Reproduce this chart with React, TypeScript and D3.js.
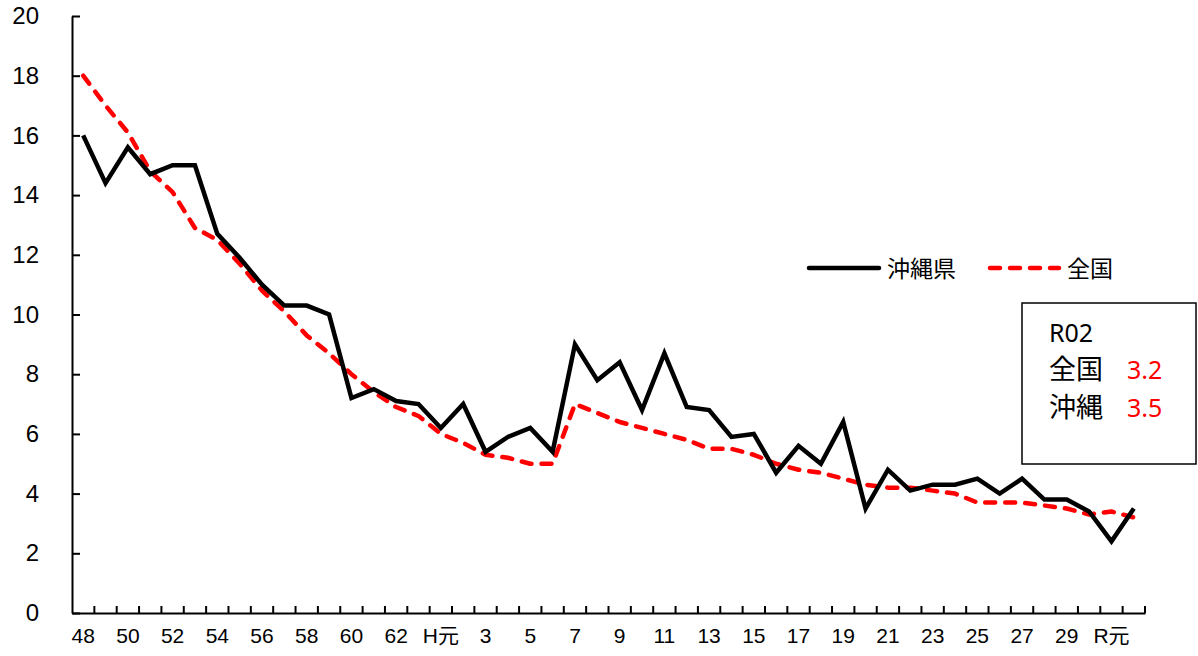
import React, { useEffect, useRef } from "react";
import * as d3 from "d3";

// Years (Showa 48 .. Reiwa 2)
const categories = [
  "S48", "S49", "S50", "S51", "S52", "S53", "S54", "S55", "S56", "S57", "S58", "S59",
  "S60", "S61", "S62", "S63", "H元", "H2", "H3", "H4", "H5", "H6", "H7", "H8", "H9",
  "H10", "H11", "H12", "H13", "H14", "H15", "H16", "H17", "H18", "H19", "H20", "H21",
  "H22", "H23", "H24", "H25", "H26", "H27", "H28", "H29", "H30", "R元", "R2",
];

// Labels shown under the x axis (every other year)
const tickLabels = [
  "48", "", "50", "", "52", "", "54", "", "56", "", "58", "", "60", "", "62", "",
  "H元", "", "3", "", "5", "", "7", "", "9", "", "11", "", "13", "", "15", "",
  "17", "", "19", "", "21", "", "23", "", "25", "", "27", "", "29", "", "R元", "",
];

const okinawa = [
  16.0, 14.4, 15.6, 14.7, 15.0, 15.0, 12.7, 11.9, 11.0, 10.3, 10.3, 10.0,
  7.2, 7.5, 7.1, 7.0, 6.2, 7.0, 5.4, 5.9, 6.2, 5.4, 9.0, 7.8, 8.4,
  6.8, 8.7, 6.9, 6.8, 5.9, 6.0, 4.7, 5.6, 5.0, 6.4, 3.5, 4.8,
  4.1, 4.3, 4.3, 4.5, 4.0, 4.5, 3.8, 3.8, 3.4, 2.4, 3.5,
];

const national = [
  18.0, 17.0, 16.1, 14.8, 14.1, 12.9, 12.5, 11.7, 10.8, 10.1, 9.3, 8.7,
  8.0, 7.4, 6.9, 6.6, 6.0, 5.7, 5.3, 5.2, 5.0, 5.0, 7.0, 6.7, 6.4,
  6.2, 6.0, 5.8, 5.5, 5.5, 5.3, 5.0, 4.8, 4.7, 4.5, 4.3, 4.2,
  4.2, 4.1, 4.0, 3.7, 3.7, 3.7, 3.6, 3.5, 3.3, 3.4, 3.2,
];

const yTicks = [0, 2, 4, 6, 8, 10, 12, 14, 16, 18, 20];

const seriesNames = ["沖縄県", "全国"];
const boxTitle = "R02";
const boxRows = [
  ["全国", "3.2"],
  ["沖縄", "3.5"],
];

const AXIS_FONT = "'Liberation Sans', 'Noto Sans CJK JP', sans-serif";
const CJK_FONT = "'Noto Sans CJK JP', 'Noto Sans', sans-serif";
const BOX_FONT = "'Noto Sans', 'Noto Sans CJK JP', sans-serif";

export default function App() {
  const ref = useRef<SVGSVGElement>(null);

  useEffect(() => {
    const width = 1198,
      height = 656;
    const left = 72,
      right = 1145,
      top = 16,
      bottom = 613;

    const svg = d3.select(ref.current);
    svg.selectAll("*").remove();
    svg.attr("width", width).attr("height", height);

    const x = d3.scaleBand<string>().domain(categories).range([left, right]).padding(0);
    const y = d3.scaleLinear().domain([0, 20]).range([bottom, top]);
    const cx = (i: number) => (x(categories[i]) as number) + x.bandwidth() / 2;

    // Y axis
    const yAxis = d3
      .axisLeft(y)
      .tickValues(yTicks)
      .tickSize(-8)
      .tickSizeOuter(0)
      .tickPadding(33);
    const gy = svg.append("g").attr("transform", `translate(${left},0)`).call(yAxis);
    gy.selectAll("path, line").attr("stroke", "#000").attr("stroke-width", 2);
    gy.selectAll("text")
      .attr("font-family", AXIS_FONT)
      .attr("font-size", 24)
      .attr("fill", "#000");

    // X axis labels (ticks drawn separately at band boundaries)
    const xAxis = d3
      .axisBottom(x)
      .tickSize(0)
      .tickSizeOuter(0)
      .tickPadding(15)
      .tickFormat((d, i) => tickLabels[i]);
    const gx = svg.append("g").attr("transform", `translate(0,${bottom})`).call(xAxis);
    gx.select(".domain").attr("stroke", "#000").attr("stroke-width", 2);
    gx.selectAll("text")
      .attr("font-family", AXIS_FONT)
      .attr("font-size", 21)
      .attr("fill", "#000");

    // Tick marks on the category boundaries
    const bounds = categories.map((c) => x(c) as number).concat([right]);
    svg
      .append("g")
      .selectAll("line")
      .data(bounds.slice(1))
      .enter()
      .append("line")
      .attr("x1", (d) => d)
      .attr("x2", (d) => d)
      .attr("y1", bottom)
      .attr("y2", bottom - 7)
      .attr("stroke", "#000")
      .attr("stroke-width", 2);

    const line = d3
      .line<number>()
      .x((d, i) => cx(i))
      .y((d) => y(d));

    // National (red dashed)
    svg
      .append("path")
      .datum(national)
      .attr("d", line)
      .attr("fill", "none")
      .attr("stroke", "#ff0000")
      .attr("stroke-width", 4.5)
      .attr("stroke-linecap", "round")
      .attr("stroke-linejoin", "round")
      .attr("stroke-dasharray", "10 10");

    // Okinawa (black solid)
    svg
      .append("path")
      .datum(okinawa)
      .attr("d", line)
      .attr("fill", "none")
      .attr("stroke", "#000")
      .attr("stroke-width", 4.5)
      .attr("stroke-linejoin", "miter");

    // Legend
    const legend = svg.append("g").attr("transform", "translate(809,268)");
    legend
      .append("line")
      .attr("x1", 0)
      .attr("x2", 70)
      .attr("stroke", "#000")
      .attr("stroke-width", 4.5)
      .attr("stroke-linecap", "round");
    legend
      .append("text")
      .attr("x", 78)
      .attr("y", 9)
      .attr("font-family", CJK_FONT)
      .attr("font-size", 23)
      .text(seriesNames[0]);
    legend
      .append("line")
      .attr("x1", 181)
      .attr("x2", 250)
      .attr("stroke", "#ff0000")
      .attr("stroke-width", 4.5)
      .attr("stroke-linecap", "round")
      .attr("stroke-dasharray", "10 10");
    legend
      .append("text")
      .attr("x", 258)
      .attr("y", 9)
      .attr("font-family", CJK_FONT)
      .attr("font-size", 23)
      .text(seriesNames[1]);

    // Latest value box
    const box = svg.append("g").attr("transform", "translate(1022,303)");
    box
      .append("rect")
      .attr("width", 174)
      .attr("height", 161)
      .attr("fill", "#fff")
      .attr("stroke", "#000")
      .attr("stroke-width", 1.5);
    box
      .append("text")
      .attr("x", 27)
      .attr("y", 39)
      .attr("font-family", BOX_FONT)
      .attr("font-size", 25)
      .text(boxTitle);
    boxRows.forEach((r, i) => {
      box
        .append("text")
        .attr("x", 27)
        .attr("y", 76 + i * 38)
        .attr("font-family", CJK_FONT)
        .attr("font-size", 27)
        .text(r[0]);
      box
        .append("text")
        .attr("x", 105)
        .attr("y", 76 + i * 38)
        .attr("font-family", BOX_FONT)
        .attr("font-size", 25)
        .attr("fill", "#ff0000")
        .text(r[1]);
    });
  }, []);

  return (
    <svg
      ref={ref}
      style={{ position: "absolute", left: 0, top: 0, background: "#fff" }}
    ></svg>
  );
}
